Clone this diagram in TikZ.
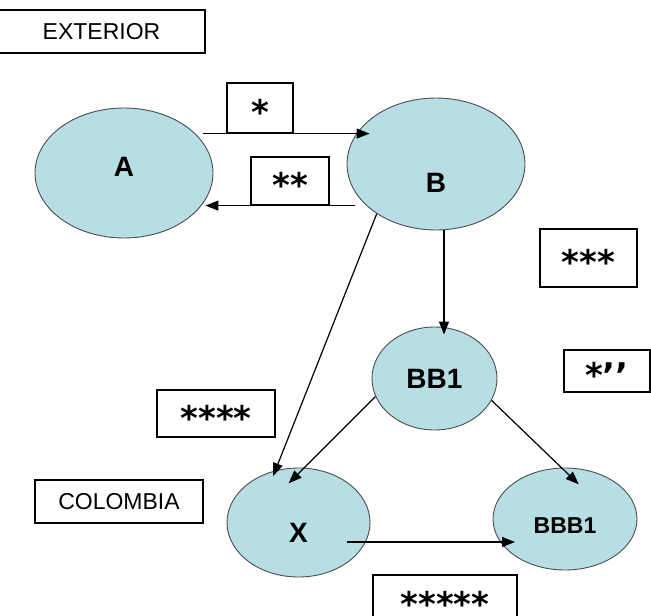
\documentclass[tikz,border=0pt]{standalone}
\usepackage{fontspec}
\setmainfont{Liberation Sans}
\newfontfamily\starfont{DejaVu Sans}
\usepackage{xcolor}
\usepackage{tikz}
\usetikzlibrary{shapes.geometric,arrows.meta}
\definecolor{blobfill}{RGB}{183,222,228}
\newcommand{\sunk}[1]{\raisebox{-10pt}{#1}}

\begin{document}
\begin{tikzpicture}[x=1pt,y=-1pt,
	box/.style={draw,line width=1.2pt,fill=white,inner sep=0pt},
	stars/.style={box,font=\starfont\bfseries\fontsize{34}{34}\selectfont,text height=1.3em,text depth=0pt},
	word/.style={box,font=\fontsize{23}{23}\selectfont},
	blob/.style={ellipse,draw=black!70,line width=0.9pt,fill=blobfill,inner sep=0pt},
	big/.style={font=\bfseries\fontsize{28}{28}\selectfont},
	>={Triangle[length=13pt,width=10pt]}]
	\useasboundingbox (0,0) rectangle (651,616);
	% the two regions
	\node[word,minimum width=207,minimum height=43] (ext) at (101.5,31.5) {EXTERIOR};
	\node[word,minimum width=168,minimum height=43] (col) at (119,501.5) {COLOMBIA};
	% the flows
	\node[blob,minimum width=178,minimum height=130,label={[big,yshift=6]center:A}] (A) at (124,173) {};
	\node[blob,minimum width=178,minimum height=132,label={[big,yshift=-19]center:B}] (B) at (436,164) {};
	\node[blob,minimum width=125,minimum height=103,label={[big]center:BB1}] (BB1) at (434.5,378.5) {};
	\node[blob,minimum width=143,minimum height=109,label={[big,yshift=-10]center:X}] (X) at (298.5,522.5) {};
	\node[blob,minimum width=144,minimum height=102,label={[big,font=\bfseries\fontsize{23}{23}\selectfont,yshift=-7]center:BBB1}] (BBB1) at (565,519) {};
	% the star boxes
	\node[stars,minimum width=66,minimum height=50] (s1) at (260,108) {\sunk{*}};
	\node[stars,minimum width=78,minimum height=48] (s2) at (290,181) {\sunk{**}};
	\node[stars,minimum width=97,minimum height=58] (s3) at (588.5,258) {\sunk{***}};
	\node[stars,minimum width=86,minimum height=42] (s4) at (607,371) {\sunk{*’’}};
	\node[stars,minimum width=118,minimum height=47] (s5) at (216,413.5) {\sunk{****}};
	\node[stars,minimum width=144,minimum height=50] (s6) at (445,600) {\sunk{*****}};
	% arrows
	\draw[->,line width=1.2pt,shorten <=-10pt,shorten >=-23pt] (A.east |- s1.south) -- (B.west |- s1.south);
	\draw[->,line width=1.2pt,shorten <=-8pt,shorten >=-8pt] (B.west |- s2.south) -- (A.east |- s2.south);
	\draw[->,line width=1.2pt,shorten >=-8pt] ([xshift=8]B.south) -- ([xshift=9.5]BB1.north);
	\draw[->,line width=1.2pt,shorten >=-6pt] (B.220) -- (X.114);
	\draw[->,line width=1.2pt,shorten >=-22pt] (BB1.197) -- (X.84);
	\draw[->,line width=1.2pt,shorten >=-24pt] (BB1.339) -- (BBB1.94);
	\draw[->,line width=1.2pt] ([shift={(48.5,19.5)}]X.center) -- ([shift={(-50,23)}]BBB1.center);
\end{tikzpicture}
\end{document}
